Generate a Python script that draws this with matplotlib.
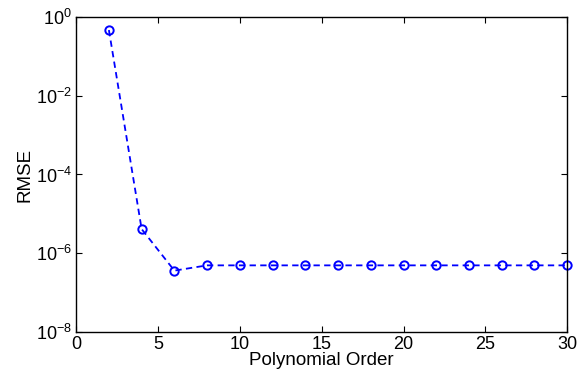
import numpy as np
import matplotlib
matplotlib.use("Agg")
import matplotlib.pyplot as plt
from matplotlib.ticker import FixedLocator, NullLocator, LogFormatterMathtext

plt.rcParams['font.family'] = ['Liberation Sans', 'DejaVu Sans']
plt.rcParams['mathtext.fontset'] = 'custom'
plt.rcParams['mathtext.rm'] = 'Liberation Sans'

# polynomial order vs fit error
orden = [2, 4, 6, 8, 10, 12, 14, 16, 18, 20, 22, 24, 26, 28, 30]
rmse = [0.47, 4.1e-6, 3.6e-7, 4.9e-7, 4.9e-7, 4.9e-7, 4.9e-7, 4.9e-7,
        4.9e-7, 4.9e-7, 4.9e-7, 4.9e-7, 4.9e-7, 4.9e-7, 4.9e-7]

fig = plt.figure(figsize=(5.77, 3.81), dpi=100)
ax = fig.add_axes([0.132, 0.129, 0.851, 0.826])

ax.semilogy(orden, rmse, color='blue', linestyle='--', dashes=(3.5, 2.4),
            marker='o', markerfacecolor='none',
            markersize=6, markeredgewidth=1.4, linewidth=1.3, clip_on=False)

ax.set_xlim(0, 30)
ax.set_ylim(1e-8, 1e0)
ax.set_xticks([0, 5, 10, 15, 20, 25, 30])
ax.yaxis.set_major_locator(FixedLocator([1e-8, 1e-6, 1e-4, 1e-2, 1e0]))
ax.yaxis.set_minor_locator(NullLocator())
ax.yaxis.set_major_formatter(LogFormatterMathtext())

ax.tick_params(direction='in', top=True, right=True, length=4, width=0.8,
               labelsize=13, pad=3)
for s in ax.spines.values():
    s.set_linewidth(1.0)

ax.set_xlabel("Polynomial Order", fontsize=13.5, labelpad=-1)
ax.set_ylabel("RMSE", fontsize=13.5, labelpad=2)

fig.savefig("out.png", dpi=100)
